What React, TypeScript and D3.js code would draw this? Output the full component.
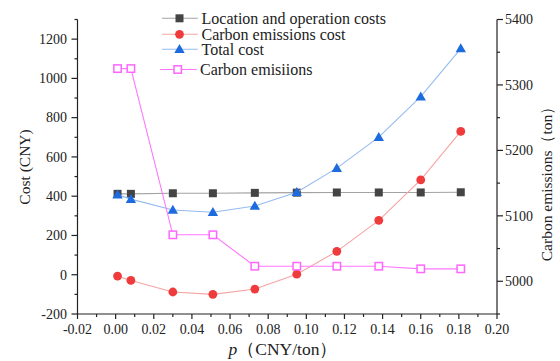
import React from "react";
import * as d3 from "d3";

// Carbon price p (CNY/ton) for each scenario
const prices = [0.001, 0.008, 0.03, 0.051, 0.073, 0.095, 0.116, 0.138, 0.16, 0.181];
// Costs in CNY (left axis)
const locationCosts = [412, 412, 415, 415, 417, 418, 419, 419, 419, 420];
const carbonCosts = [-7, -29, -88, -100, -73, 3, 119, 277, 483, 730];
const totalCosts = [408, 385, 330, 318, 350, 420, 543, 701, 907, 1152];
// Carbon emissions in tons (right axis)
const emissions = [5325, 5325, 5071, 5071, 5023, 5023, 5023, 5023, 5019, 5019];

const xTicks = [-0.02, 0, 0.02, 0.04, 0.06, 0.08, 0.1, 0.12, 0.14, 0.16, 0.18, 0.2];
const yLeftTicks = [-200, 0, 200, 400, 600, 800, 1000, 1200];
const yRightTicks = [5000, 5100, 5200, 5300, 5400];

const legendLabels = [
  "Location and operation costs",
  "Carbon emissions cost",
  "Total cost",
  "Carbon emisiions",
];

const W = 560;
const H = 361;
const left = 77.5;
const right = 497;
const top = 19.5;
const bottom = 314;

const FONT = "'Liberation Serif', 'Times New Roman', serif";
const AXIS = "#222";

const x = d3.scaleLinear().domain([-0.02, 0.2]).range([left, right]);
const yL = d3.scaleLinear().domain([-200, 1300]).range([bottom, top]);
const yR = d3.scaleLinear().domain([4950, 5400]).range([bottom, top]);

const fmt = (f: (n: number) => string) => (v: number) => f(v).replace("\u2212", "-");
const fx = fmt(d3.format(".2f"));
const fy = fmt(d3.format("d"));

const range = (a: number, b: number, s: number) => {
  const out: number[] = [];
  for (let i = 0; a + i * s <= b + 1e-9; i++) out.push(a + i * s);
  return out;
};
const xMinor = range(-0.01, 0.19, 0.02);
const yLMinor = range(-100, 1300, 200);
const yRMinor = range(4950, 5350, 100);

type Series = {
  values: number[];
  scale: d3.ScaleLinear<number, number>;
  line: string;
  marker: string;
  shape: "square" | "circle" | "triangle" | "open";
};

const series: Series[] = [
  { values: locationCosts, scale: yL, line: "#a3a3a3", marker: "#444444", shape: "square" },
  { values: carbonCosts, scale: yL, line: "#f7a3a3", marker: "#ef3b3b", shape: "circle" },
  { values: totalCosts, scale: yL, line: "#93bbf0", marker: "#1e6be0", shape: "triangle" },
  { values: emissions, scale: yR, line: "#ff77ff", marker: "#ff66ff", shape: "open" },
];

function Marker({ shape, color, cx, cy }: { shape: Series["shape"]; color: string; cx: number; cy: number }) {
  if (shape === "square") return <rect x={cx - 4} y={cy - 4} width={8} height={8} fill={color} />;
  if (shape === "circle") return <circle cx={cx} cy={cy} r={4.4} fill={color} />;
  if (shape === "triangle")
    return <path d={`M${cx},${cy - 5.2}L${cx + 5.2},${cy + 3.8}L${cx - 5.2},${cy + 3.8}Z`} fill={color} />;
  return <rect x={cx - 3.7} y={cy - 3.7} width={7.4} height={7.4} fill="#fff" stroke={color} strokeWidth={1.5} />;
}

export default function App() {
  const legendRows = [
    { y: 18.3, x0: 162, x1: 197.7, mx: 179.5, tx: 201.5 },
    { y: 34.3, x0: 162, x1: 197.7, mx: 179.5, tx: 201.5 },
    { y: 49.3, x0: 162, x1: 197.7, mx: 179.5, tx: 201.5 },
    { y: 69.5, x0: 160, x1: 196.7, mx: 177.7, tx: 200 },
  ];

  return (
    <svg
      width={W}
      height={H}
      style={{ position: "absolute", left: 0, top: 0, background: "#fff" }}
      fontFamily={FONT}
    >
      <rect width={W} height={H} fill="#fff" />

      {/* data series */}
      {series.map((s, i) => {
        const line = d3
          .line<number>()
          .x((_, j) => x(prices[j]))
          .y((v) => s.scale(v));
        return (
          <g key={i}>
            <path d={line(s.values) ?? ""} fill="none" stroke={s.line} strokeWidth={1.1} />
            {s.values.map((v, j) => (
              <Marker key={j} shape={s.shape} color={s.marker} cx={x(prices[j])} cy={s.scale(v)} />
            ))}
          </g>
        );
      })}

      {/* axes */}
      <g stroke={AXIS} strokeWidth={1.2} fill="none">
        <line x1={left} x2={left} y1={top} y2={bottom} />
        <line x1={right} x2={right} y1={top} y2={bottom} />
        <line x1={left} x2={right} y1={bottom} y2={bottom} />
        {xTicks.map((t) => (
          <line key={`xt${t}`} x1={x(t)} x2={x(t)} y1={bottom} y2={bottom + 5} />
        ))}
        {xMinor.map((t) => (
          <line key={`xm${t}`} x1={x(t)} x2={x(t)} y1={bottom} y2={bottom + 3} />
        ))}
        {yLeftTicks.map((t) => (
          <line key={`yl${t}`} x1={left - 6} x2={left} y1={yL(t)} y2={yL(t)} />
        ))}
        {yLMinor.map((t) => (
          <line key={`ylm${t}`} x1={left - 3} x2={left} y1={yL(t)} y2={yL(t)} />
        ))}
        {yRightTicks.map((t) => (
          <line key={`yr${t}`} x1={right} x2={right + 6} y1={yR(t)} y2={yR(t)} />
        ))}
        {yRMinor.map((t) => (
          <line key={`yrm${t}`} x1={right} x2={right + 3} y1={yR(t)} y2={yR(t)} />
        ))}
      </g>

      <g fontSize={14} fill="#222">
        {xTicks.map((t) => (
          <text key={`xl${t}`} x={x(t)} y={334} textAnchor="middle">
            {fx(t)}
          </text>
        ))}
        {yLeftTicks.map((t) => (
          <text key={`yll${t}`} x={67} y={yL(t) + 4.8} textAnchor="end">
            {fy(t)}
          </text>
        ))}
        {yRightTicks.map((t) => (
          <text key={`yrl${t}`} x={505} y={yR(t) + 4.8} textAnchor="start">
            {fy(t)}
          </text>
        ))}
      </g>

      {/* axis titles */}
      <text
        transform="translate(30,167) rotate(-90)"
        textAnchor="middle"
        fontSize={15.5}
        fill="#222"
      >
        Cost (CNY)
      </text>
      <text
        transform="translate(552,180) rotate(-90)"
        textAnchor="middle"
        fontSize={15.5}
        fill="#222"
      >
        Carbon emissions（ton）
      </text>
      <text x={283} y={355} textAnchor="middle" fontSize={17.5} fill="#222">
        <tspan fontStyle="italic">p</tspan>（CNY/ton）
      </text>

      {/* legend */}
      {series.map((s, i) => {
        const r = legendRows[i];
        return (
          <g key={`lg${i}`}>
            <line x1={r.x0} x2={r.x1} y1={r.y} y2={r.y} stroke={s.line} strokeWidth={1.1} />
            <Marker shape={s.shape} color={s.marker} cx={r.mx} cy={r.y} />
            <text x={r.tx} y={r.y + 5.3} fontSize={16} fill="#222">
              {legendLabels[i]}
            </text>
          </g>
        );
      })}
    </svg>
  );
}
